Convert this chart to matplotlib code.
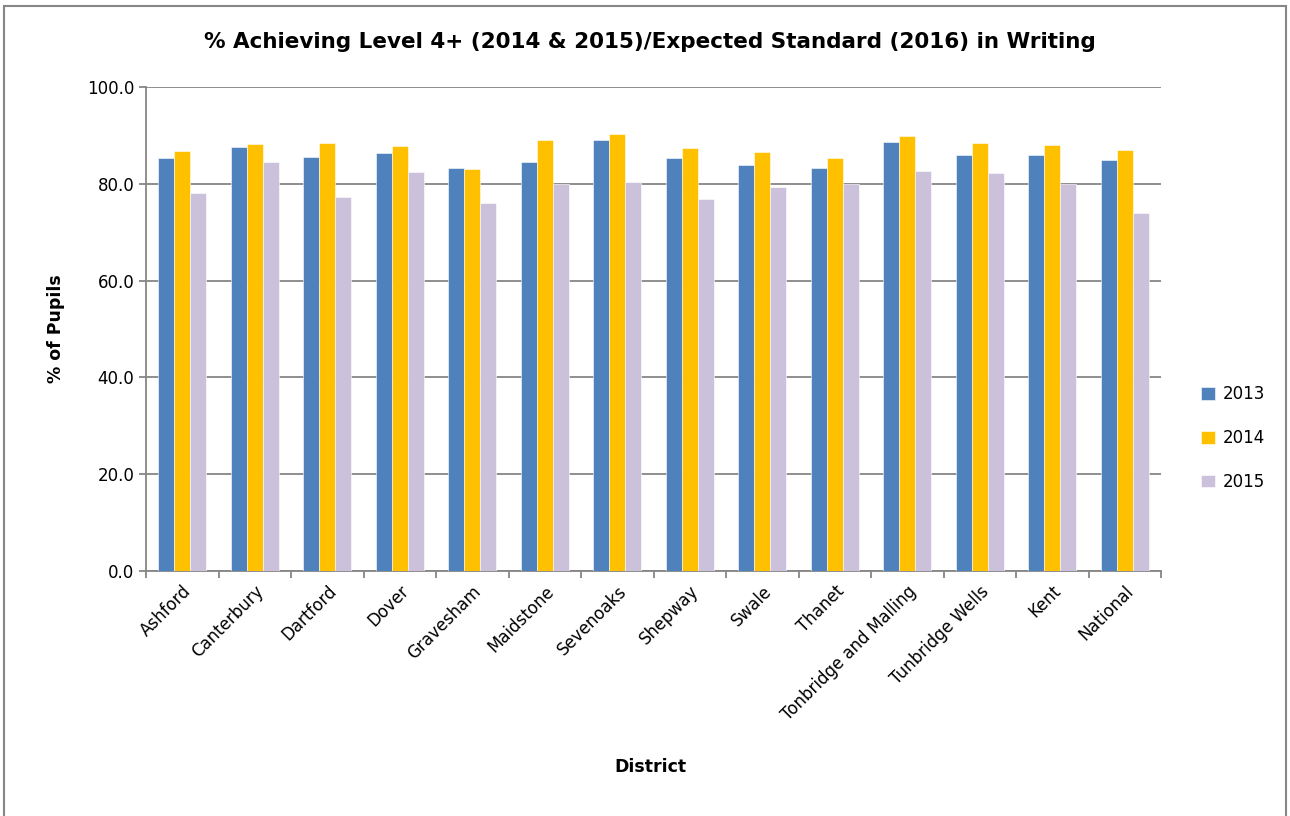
import numpy as np
import matplotlib
matplotlib.use("Agg")
import matplotlib.pyplot as plt
from matplotlib.patches import Rectangle

# data
districts = ["Ashford", "Canterbury", "Dartford", "Dover", "Gravesham",
             "Maidstone", "Sevenoaks", "Shepway", "Swale", "Thanet",
             "Tonbridge and Malling", "Tunbridge Wells", "Kent", "National"]
years = ["2013", "2014", "2015"]
vals_2013 = [85.3, 87.6, 85.5, 86.3, 83.3, 84.4, 89.0, 85.3, 83.9, 83.2, 88.6, 86.0, 86.0, 84.9]
vals_2014 = [86.8, 88.2, 88.4, 87.9, 83.1, 89.0, 90.3, 87.3, 86.6, 85.4, 89.8, 88.4, 88.0, 87.0]
vals_2015 = [78.0, 84.4, 77.3, 82.5, 76.0, 80.0, 80.4, 76.9, 79.3, 80.0, 82.6, 82.2, 80.0, 74.0]
colors = ["#4F81BD", "#FFC000", "#CCC1DA"]

plt.rcParams['font.family'] = ['DejaVu Sans']

fig = plt.figure(figsize=(12.9, 8.16), dpi=100)
ax = fig.add_axes([0.1132, 0.3002, 0.9 - 0.1132, 0.8934 - 0.3002])

x = np.arange(len(districts))
w = 0.222
for i, (vals, c, yr) in enumerate(zip([vals_2013, vals_2014, vals_2015], colors, years)):
    ax.bar(x + (i - 1) * w, vals, width=w, color=c, label=yr,
           edgecolor="white", linewidth=0.4, zorder=3)

ax.set_xlim(-0.5, len(districts) - 0.5)
ax.set_ylim(0, 100)
ax.set_yticks(np.arange(0, 101, 20))
ax.set_yticklabels([f"{v:.1f}" for v in np.arange(0, 101, 20)], fontsize=12)
ax.yaxis.grid(True, color="#868686", linewidth=1.3, zorder=0)

ax.set_xticks(x)
ax.set_xticklabels(districts, rotation=45, ha="right", rotation_mode="anchor", fontsize=12)
ax.tick_params(axis="x", which="major", length=0, pad=8)
ax.set_xticks(np.arange(-0.5, len(districts), 1), minor=True)
ax.tick_params(axis="x", which="minor", length=5, color="#868686", width=1.3)
ax.tick_params(axis="y", length=5, color="#868686", width=1.3)

for s in ["top", "right"]:
    ax.spines[s].set_visible(False)
for s in ["left", "bottom"]:
    ax.spines[s].set_color("#868686")
    ax.spines[s].set_linewidth(1.3)

ax.set_ylabel("% of Pupils", fontsize=12.5, fontweight="bold", labelpad=16)
fig.text(0.504, 0.054, "District", ha="center", fontsize=12.5, fontweight="bold")
fig.text(0.504, 0.948, "% Achieving Level 4+ (2014 & 2015)/Expected Standard (2016) in Writing",
         ha="center", va="center", fontsize=15.5, fontweight="bold")

ax.legend(loc="center left", bbox_to_anchor=(1.025, 0.275), frameon=False,
          fontsize=12, handlelength=0.8, handleheight=0.8, handletextpad=0.5,
          labelspacing=1.55)

fig.patches.append(Rectangle((0.003, -0.01), 0.994, 1.003, transform=fig.transFigure,
                             fill=False, edgecolor="#868686", linewidth=1.5))

fig.savefig("out.png", dpi=100)
